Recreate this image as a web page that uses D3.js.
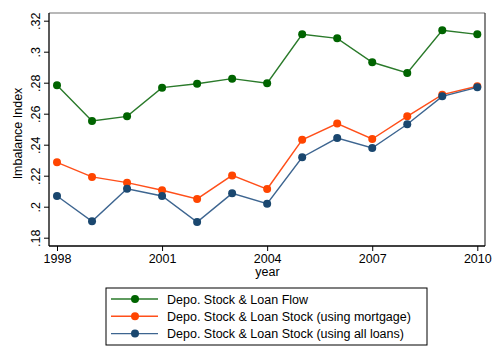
<!DOCTYPE html>
<html>
<head>
<meta charset="utf-8">
<script src="https://cdn.jsdelivr.net/npm/d3@7"></script>
<style>
  body { margin: 0; background: #fff; }
  text { font-family: "Liberation Sans", Arial, sans-serif; fill: #000; }
</style>
</head>
<body>
<div id="chart"></div>
<script>
// data
const years = [1998, 1999, 2000, 2001, 2002, 2003, 2004, 2005, 2006, 2007, 2008, 2009, 2010];
const loanFlow = [0.2783, 0.2553, 0.2583, 0.2768, 0.2793, 0.2826, 0.2797, 0.3112, 0.3086, 0.2932, 0.2863, 0.3138, 0.3112];
const stockMortgage = [0.2286, 0.2192, 0.2155, 0.2106, 0.2050, 0.2202, 0.2114, 0.2432, 0.2536, 0.2437, 0.2583, 0.2723, 0.2777];
const stockAllLoans = [0.2069, 0.1906, 0.2116, 0.2069, 0.1901, 0.2086, 0.2019, 0.2319, 0.2443, 0.2379, 0.2532, 0.2712, 0.2770];
const xTicks = [1998, 2001, 2004, 2007, 2010];
const yTicks = [0.18, 0.2, 0.22, 0.24, 0.26, 0.28, 0.3, 0.32];
const seriesNames = ["Depo. Stock & Loan Flow", "Depo. Stock & Loan Stock (using mortgage)", "Depo. Stock & Loan Stock (using all loans)"];

const series = [
  {name: seriesNames[0], values: loanFlow, line: "#2a7a2a", dot: "#006400"},
  {name: seriesNames[1], values: stockMortgage, line: "#ff4f1a", dot: "#ff4500"},
  {name: seriesNames[2], values: stockAllLoans, line: "#3d6590", dot: "#1a476f"}
];

const width = 498, height = 363;
const plot = {left: 49, right: 485, top: 13, bottom: 246};

const svg = d3.select("#chart").append("svg")
  .attr("width", width)
  .attr("height", height);

const x = d3.scaleLinear().domain([1998, 2010]).range([57, 477.3]);
const y = d3.scaleLinear().domain([0.18, 0.32]).range([237.7, 20.7]);

// plot region frame (top + right)
svg.append("path")
  .attr("d", `M${plot.left},${plot.top}H${plot.right}`)
  .attr("stroke", "#a0a0a0").attr("stroke-width", 1.3).attr("fill", "none");
svg.append("path")
  .attr("d", `M${plot.right},${plot.top}V${plot.bottom}`)
  .attr("stroke", "#444").attr("stroke-width", 1.3).attr("fill", "none");

const fmt = d => d3.format(".2f")(d).replace(/^0/, "").replace(/0$/, "");

// y axis
const yAxis = svg.append("g")
  .attr("transform", `translate(${plot.left},0)`)
  .call(d3.axisLeft(y).tickValues(yTicks).tickSize(5).tickFormat(fmt));
yAxis.select(".domain").attr("d", `M0,${plot.top}V${plot.bottom}`).attr("stroke", "#000").attr("stroke-width", 1.3);
yAxis.selectAll(".tick line").attr("stroke", "#000");
yAxis.selectAll(".tick text")
  .attr("font-size", 12.5)
  .attr("x", null).attr("dy", null)
  .attr("text-anchor", "middle")
  .attr("transform", "translate(-9,0) rotate(-90)");

// x axis
const xAxis = svg.append("g")
  .attr("transform", `translate(0,${plot.bottom})`)
  .call(d3.axisBottom(x).tickValues(xTicks).tickSize(5).tickFormat(d3.format("d")));
xAxis.select(".domain").attr("d", `M${plot.left},0H${plot.right}`).attr("stroke", "#000").attr("stroke-width", 1.3);
xAxis.selectAll(".tick line").attr("stroke", "#000");
xAxis.selectAll(".tick text").attr("font-size", 12.5).attr("y", 8);

// axis titles
svg.append("text")
  .attr("transform", `translate(22,${(plot.top + plot.bottom) / 2 + 4}) rotate(-90)`)
  .attr("text-anchor", "middle")
  .attr("font-size", 12.5)
  .text("Imbalance Index");
svg.append("text")
  .attr("x", (plot.left + plot.right) / 2 + 0.5)
  .attr("y", 276)
  .attr("text-anchor", "middle")
  .attr("font-size", 12.5)
  .text("year");

// lines + markers
const line = d3.line().x((d, i) => x(years[i])).y(d => y(d));
const g = svg.append("g");
series.forEach(s => {
  g.append("path")
    .attr("d", line(s.values))
    .attr("fill", "none")
    .attr("stroke", s.line)
    .attr("stroke-width", 1.4);
  g.selectAll(null).data(s.values).enter().append("circle")
    .attr("cx", (d, i) => x(years[i]))
    .attr("cy", d => y(d))
    .attr("r", 4)
    .attr("fill", s.dot);
});

// legend
const lg = svg.append("g");
lg.append("rect")
  .attr("x", 106).attr("y", 288)
  .attr("width", 321).attr("height", 57)
  .attr("fill", "#fff").attr("stroke", "#000").attr("stroke-width", 1);
series.forEach((s, i) => {
  const ly = 299 + i * 17.3;
  lg.append("line")
    .attr("x1", 111).attr("x2", 158).attr("y1", ly).attr("y2", ly)
    .attr("stroke", s.line).attr("stroke-width", 1.4);
  lg.append("circle")
    .attr("cx", 135).attr("cy", ly).attr("r", 4).attr("fill", s.dot);
  lg.append("text")
    .attr("x", 167).attr("y", ly + 4.5)
    .attr("font-size", 12.5)
    .text(s.name);
});
</script>
</body>
</html>
